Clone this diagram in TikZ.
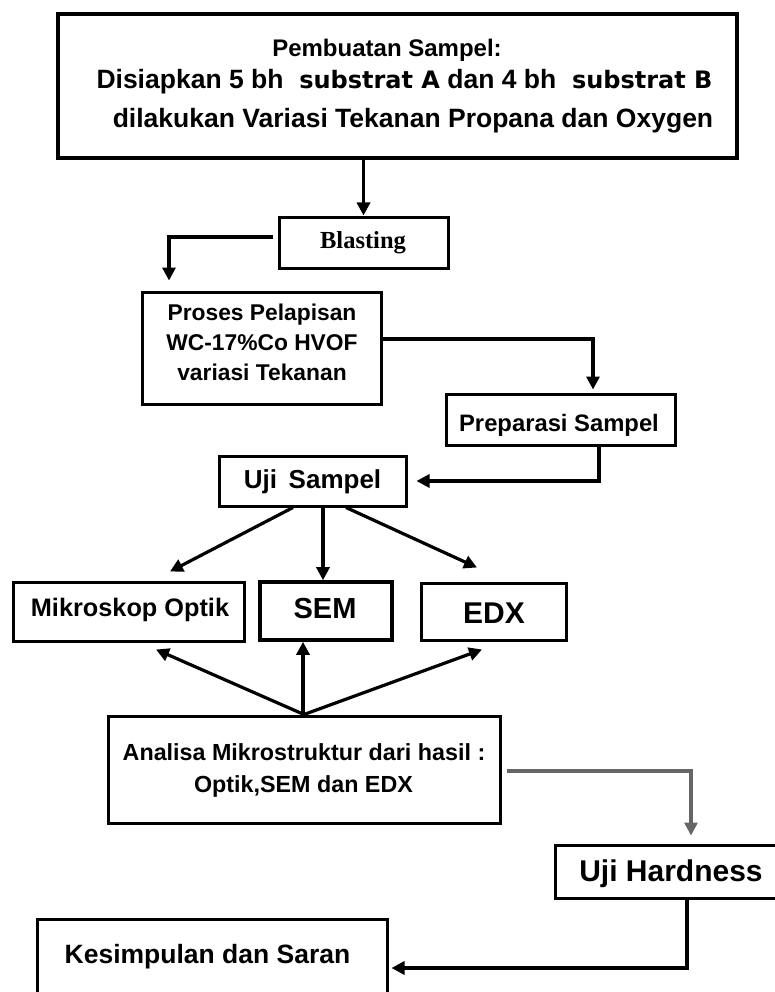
\documentclass[tikz,border=0pt]{standalone}
\usepackage{fontspec}
\setmainfont{Liberation Sans}
\newfontfamily\dvs{DejaVu Sans}
\newfontfamily\lserif{Liberation Serif}
\usetikzlibrary{arrows.meta}
\newcommand{\fs}[1]{\fontsize{#1}{#1}\selectfont}
\begin{document}
\begin{tikzpicture}[x=1pt,y=-1pt,
  box/.style={draw, line width=3pt, inner sep=0pt},
  arr/.style={line width=3.2pt, -{Triangle[length=13pt,width=13pt]}},
  txt/.style={inner sep=0pt, anchor=base, font=\bfseries}]
\fill[white] (0,0) rectangle (775,992);
\useasboundingbox (0,0) rectangle (775,992);
% boxes
\node[box, minimum width=679pt, minimum height=144pt, line width=3.6pt] (top) at (397.5,86) {};
\node[box, minimum width=169pt, minimum height=50pt] (blast) at (363.5,243) {};
\node[box, minimum width=239pt, minimum height=112pt] (proses) at (261.5,348) {};
\node[box, minimum width=229pt, minimum height=51pt] (prep) at (560.5,419.5) {};
\node[box, minimum width=187pt, minimum height=50pt] (uji) at (312.5,481) {};
\node[box, minimum width=231pt, minimum height=59pt] (mikro) at (128.5,611.5) {};
\node[box, minimum width=132pt, minimum height=58pt, line width=3.6pt] (sem) at (326,611) {};
\node[box, minimum width=145pt, minimum height=57pt] (edx) at (493.5,611.5) {};
\node[box, minimum width=392pt, minimum height=107pt] (anal) at (304,769.5) {};
\node[box, minimum width=235pt, minimum height=53pt] (hard) at (672.5,871.5) {};
\node[box, minimum width=350pt, minimum height=98pt] (kes) at (212,968) {};
% texts
\node[txt, font=\bfseries\fs{24}] (t1) at (387,57) {Pembuatan Sampel:};
\node[txt, font=\bfseries\fs{26.5}] (t2) at (404.5,89) {Disiapkan 5 bh {\dvs\fs{24} substrat A} dan 4 bh {\dvs\fs{24} substrat B}};
\node[txt, font=\bfseries\fs{26.5}] (t3) at (413,128) {dilakukan Variasi Tekanan Propana dan Oxygen};
\node[txt, font=\lserif\bfseries\fs{24.5}] (tb) at (363,248) {Blasting};
\node[txt, font=\bfseries\fs{22.8}] (tp1) at (262,320) {Proses Pelapisan};
\node[txt, font=\bfseries\fs{22.8}] (tp2) at (262,350) {WC-17\%Co HVOF};
\node[txt, font=\bfseries\fs{22.8}] (tp3) at (262,380) {variasi Tekanan};
\node[txt, font=\bfseries\fs{23.8}] (tprep) at (559,431) {Preparasi Sampel};
\node[txt, font=\bfseries\fs{26}] (tuji) at (312.5,488) {Uji\hspace{0.45em}Sampel};
\node[txt, font=\bfseries\fs{25.3}] (tmik) at (130,616) {Mikroskop Optik};
\node[txt, font=\bfseries\fs{29}] (tsem) at (325,618) {SEM};
\node[txt, font=\bfseries\fs{30}] (tedx) at (494,623) {EDX};
\node[txt, font=\bfseries\fs{23.3}] (ta1) at (304,760) {Analisa Mikrostruktur dari hasil :};
\node[txt, font=\bfseries\fs{23.3}] (ta2) at (303.5,792) {Optik,SEM dan EDX};
\node[txt, font=\bfseries\fs{30}] (th) at (671,881) {Uji Hardness};
\node[txt, font=\bfseries\fs{26.5}] (tk) at (207.5,963) {Kesimpulan dan Saran};
% connectors
\draw[arr] (blast.north |- top.south) -- ([yshift=1pt]blast.north);
\coordinate (e1) at (169,237);
\draw[arr] ([xshift=-5pt]blast.west |- e1) -| ([yshift=10pt]proses.north -| e1);
\draw[arr] ([yshift=9pt]proses.east) -| ([xshift=32.5pt,yshift=3pt]prep.north);
\draw[arr] ([xshift=38.5pt]prep.south) |- ([xshift=9pt]uji.east);
\draw[arr] ([xshift=-19.5pt]uji.south) -- ([xshift=41.5pt,yshift=9pt]mikro.north);
\draw[arr] ([xshift=10.5pt]uji.south) -- ([xshift=10.5pt]uji.south |- sem.north);
\draw[arr] ([xshift=33.5pt]uji.south) -- ([xshift=-16.5pt,yshift=14pt]edx.north);
\draw[arr] (anal.north) -- ([xshift=27.5pt,yshift=-7pt]mikro.south);
\draw[arr] ([xshift=-1pt]anal.north) -- ([xshift=-1pt]anal.north |- sem.south);
\draw[arr] (anal.north) -- ([xshift=-11.5pt,yshift=-8pt]edx.south);
\draw[arr, black!60] ([xshift=5pt,yshift=-1.5pt]anal.east) -| ([xshift=18.5pt,yshift=8pt]hard.north);
\draw[arr, line width=3.6pt] ([xshift=14.5pt]hard.south) |- ([xshift=3pt]kes.east);
\end{tikzpicture}
\end{document}
